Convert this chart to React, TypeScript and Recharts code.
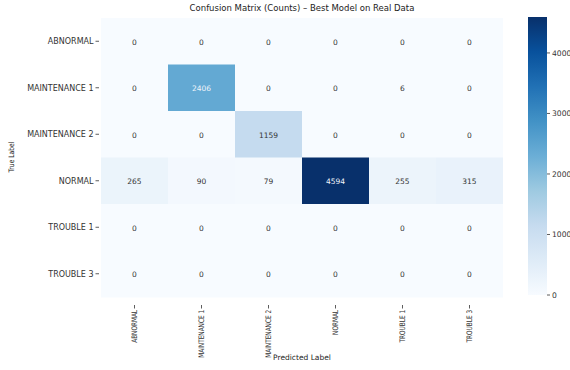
import { Bar, BarChart, Cell, LabelList, XAxis, YAxis } from "recharts";

const labels = ["ABNORMAL", "MAINTENANCE 1", "MAINTENANCE 2", "NORMAL", "TROUBLE 1", "TROUBLE 3"];

// rows = true label, columns = predicted label
const abnormalRow = [0, 0, 0, 0, 0, 0];
const maintenance1Row = [0, 2406, 0, 0, 6, 0];
const maintenance2Row = [0, 0, 1159, 0, 0, 0];
const normalRow = [265, 90, 79, 4594, 255, 315];
const trouble1Row = [0, 0, 0, 0, 0, 0];
const trouble3Row = [0, 0, 0, 0, 0, 0];

const colorbarTicks = [0, 1000, 2000, 3000, 4000];

const matrix = [abnormalRow, maintenance1Row, maintenance2Row, normalRow, trouble1Row, trouble3Row];
const maxCount = Math.max(...matrix.flat());

const rows = labels.map((row, i) => {
  const r: Record<string, string | number> = { row };
  matrix[i].forEach((n, j) => {
    r[`n${j}`] = n;
    r[`c${j}`] = 1;
  });
  return r;
});

const FONT = "'DejaVu Sans', sans-serif";
const TEXT = "#333";

// matplotlib "Blues"
const BLUES = ["#f7fbff", "#deebf7", "#c6dbef", "#9ecae1", "#6baed6", "#4292c6", "#2171b5", "#08519c", "#08306b"];

function hex(c: string) {
  return [1, 3, 5].map((k) => parseInt(c.slice(k, k + 2), 16));
}

function blues(t: number) {
  const p = Math.min(1, Math.max(0, t)) * (BLUES.length - 1);
  const i = Math.min(BLUES.length - 2, Math.floor(p));
  const f = p - i;
  const a = hex(BLUES[i]);
  const b = hex(BLUES[i + 1]);
  const m = a.map((v, k) => Math.round(v + (b[k] - v) * f));
  return `rgb(${m[0]},${m[1]},${m[2]})`;
}

function CellLabel(props: any) {
  const { x, y, width, height, value } = props;
  const dark = value / maxCount > 0.45;
  return (
    <text
      x={x + width / 2}
      y={y + height / 2}
      dy={3}
      textAnchor="middle"
      fontSize={7.5}
      fontFamily={FONT}
      fill={dark ? "#f0f4fa" : TEXT}
    >
      {value}
    </text>
  );
}

// the picture is squeezed vertically, so rotated labels are narrower along their length
function XTick(props: any) {
  const { x, y, payload } = props;
  return (
    <g transform={`translate(${x},${y})`}>
      <line x1={0} y1={0} x2={0} y2={3.5} stroke={TEXT} strokeWidth={0.8} />
      <text
        transform="rotate(-90) scale(0.76 1)"
        x={-6.5}
        y={2.6}
        textAnchor="end"
        fontSize={7.6}
        fontFamily={FONT}
        fill={TEXT}
      >
        {labels[Math.floor(payload.value)]}
      </text>
    </g>
  );
}

function YTick(props: any) {
  const { x, y, payload } = props;
  return (
    <g transform={`translate(${x},${y})`}>
      <line x1={0} y1={0} x2={3.5} y2={0} stroke={TEXT} strokeWidth={0.8} />
      <text x={-2} y={2.8} textAnchor="end" fontSize={8} fontFamily={FONT} fill={TEXT}>
        {payload.value}
      </text>
    </g>
  );
}

export default function App() {
  return (
    <div style={{ position: "absolute", left: 0, top: 0, width: 570, height: 370, background: "#fff", fontFamily: FONT }}>
      <div
        style={{
          position: "absolute",
          top: 3,
          left: 101,
          width: 402,
          textAlign: "center",
          fontSize: 8.5,
          color: "#222",
        }}
      >
        Confusion Matrix (Counts) – Best Model on Real Data
      </div>

      <BarChart
        width={570}
        height={370}
        data={rows}
        layout="vertical"
        margin={{ top: 18, right: 67, bottom: 0, left: 0 }}
        barCategoryGap={0}
      >
        <XAxis
          type="number"
          domain={[0, 6]}
          ticks={[0.5, 1.5, 2.5, 3.5, 4.5, 5.5]}
          height={73}
          axisLine={false}
          tickLine={false}
          tick={<XTick />}
          interval={0}
        />
        <YAxis
          type="category"
          dataKey="row"
          width={101}
          axisLine={false}
          tickLine={false}
          tickSize={3.5}
          tick={<YTick />}
          interval={0}
        />
        {labels.map((_, j) => (
          <Bar key={j} dataKey={`c${j}`} stackId="m" isAnimationActive={false}>
            {matrix.map((r, i) => (
              <Cell key={i} fill={blues(r[j] / maxCount)} />
            ))}
            <LabelList dataKey={`n${j}`} content={<CellLabel />} />
          </Bar>
        ))}
      </BarChart>

      <div
        style={{
          position: "absolute",
          left: 11,
          top: 157,
          transform: "translate(-50%, -50%) rotate(-90deg) scale(0.8, 1)",
          fontSize: 7.5,
          color: "#222",
          whiteSpace: "nowrap",
        }}
      >
        True Label
      </div>
      <div
        style={{
          position: "absolute",
          left: 101,
          width: 402,
          top: 353,
          textAlign: "center",
          fontSize: 7.5,
          color: "#222",
        }}
      >
        Predicted Label
      </div>

      <div style={{ position: "absolute", left: 528, top: 0 }}>
        <BarChart
          width={42}
          height={370}
          data={[{ v: maxCount }]}
          margin={{ top: 17, right: 0, bottom: 75, left: 0 }}
          barCategoryGap={0}
        >
          <defs>
            <linearGradient id="cbGrad" x1="0" y1="1" x2="0" y2="0">
              {BLUES.map((c, k) => (
                <stop key={k} offset={k / (BLUES.length - 1)} stopColor={c} />
              ))}
            </linearGradient>
          </defs>
          <XAxis type="category" hide />
          <YAxis
            orientation="right"
            type="number"
            domain={[0, maxCount]}
            ticks={colorbarTicks}
            width={23}
            axisLine={false}
            tickSize={3}
            tickLine={{ stroke: TEXT, strokeWidth: 0.8 }}
            tick={{ fontSize: 7.6, fill: TEXT, fontFamily: FONT }}
          />
          <Bar dataKey="v" fill="url(#cbGrad)" isAnimationActive={false} />
        </BarChart>
      </div>
    </div>
  );
}
